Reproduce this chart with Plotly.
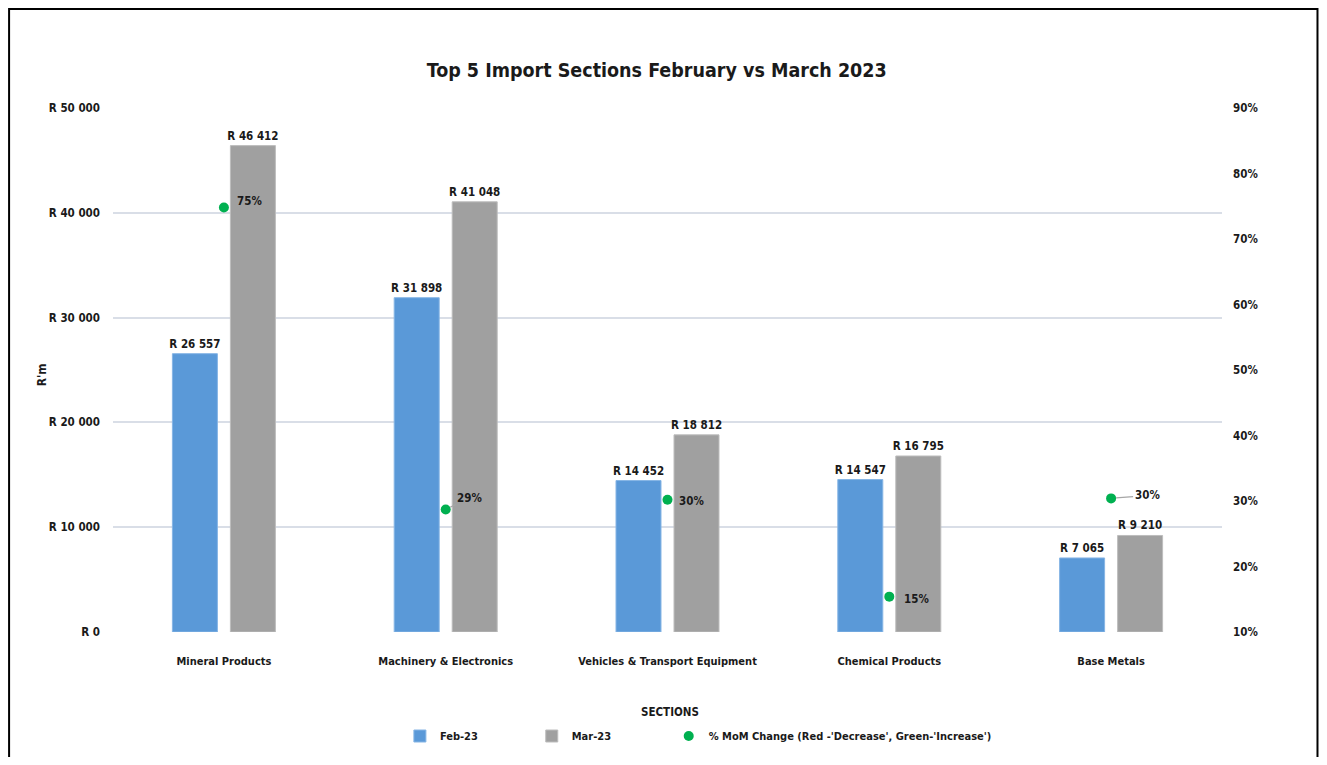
import plotly.graph_objects as go

# ---- data ----
sections = ["Mineral Products", "Machinery & Electronics", "Vehicles & Transport Equipment",
            "Chemical Products", "Base Metals"]
feb_23 = [26557, 31898, 14452, 14547, 7065]
mar_23 = [46412, 41048, 18812, 16795, 9210]
mom_change = [0.748, 0.287, 0.302, 0.154, 0.304]
y_ticks = [0, 10000, 20000, 30000, 40000, 50000]
y2_ticks = [0.1, 0.2, 0.3, 0.4, 0.5, 0.6, 0.7, 0.8, 0.9]

FONT = "DejaVu Sans Condensed, Liberation Sans Narrow, Arial Narrow, sans-serif"
TXT = "#1a1a1a"
BLUE = "#5a99d8"
GRAY = "#a0a0a0"
GREEN = "#00b050"


def f(size):
    return dict(family=FONT, size=size, color=TXT, weight="bold")


fig = go.Figure()
fig.add_trace(go.Bar(
    x=sections, y=feb_23, name="Feb-23", legend="legend",
    marker=dict(color=BLUE, line=dict(color="#86b5e5", width=1)),
    texttemplate="R %{y:,}", textposition="outside", constraintext="none",
    cliponaxis=False, textfont=f(11.5),
))
fig.add_trace(go.Bar(
    x=sections, y=mar_23, name="Mar-23", legend="legend2",
    marker=dict(color=GRAY, line=dict(color="#bdbdbd", width=1)),
    texttemplate="R %{y:,}", textposition="outside", constraintext="none",
    cliponaxis=False, textfont=f(11.5),
))
fig.add_trace(go.Scatter(
    x=sections, y=mom_change, yaxis="y2", mode="markers", legend="legend3",
    name="% MoM Change (Red -'Decrease', Green-'Increase')",
    marker=dict(color=GREEN, size=10, symbol="circle"),
    cliponaxis=False,
))

# percentage labels (offsets in px are styling)
label_style = [
    dict(xshift=26, yshift=7, arrow=False),
    dict(ax=24, ay=-12, arrow=True),
    dict(xshift=24, yshift=-1, arrow=False),
    dict(xshift=27, yshift=-2, arrow=False),
    dict(ax=36, ay=-3, arrow=True),
]
for cat, val, st in zip(sections, mom_change, label_style):
    common = dict(x=cat, y=val, xref="x", yref="y2", text=f"{val:.0%}", font=f(11.5))
    if st["arrow"]:
        fig.add_annotation(**common, showarrow=True, arrowhead=0, arrowwidth=1.2,
                           arrowcolor="#a6a6a6", ax=st["ax"], ay=st["ay"], standoff=5)
    else:
        fig.add_annotation(**common, showarrow=False, xshift=st["xshift"], yshift=st["yshift"])

# axis titles
fig.add_annotation(x=-0.064, y=0.49, xref="paper", yref="paper", xanchor="center",
                   yanchor="middle", text="R'm", textangle=-90, showarrow=False, font=f(12))
fig.add_annotation(x=0.502, y=-0.1527, xref="paper", yref="paper", xanchor="center",
                   yanchor="middle", text="SECTIONS", showarrow=False, font=f(11.5))

# outer frame
fig.add_shape(type="rect", xref="paper", yref="paper", x0=-0.0937, x1=1.0861, y0=-0.3, y1=1.1889,
              line=dict(color="black", width=2), layer="above")

legend_common = dict(orientation="h", y=-0.1985, yanchor="middle", xanchor="left",
                     font=f(11), itemwidth=30, bgcolor="rgba(0,0,0,0)")

fig.update_layout(
    width=1311, height=749,
    margin=dict(l=105, r=96.5, t=100, b=125, autoexpand=False),
    paper_bgcolor="white", plot_bgcolor="white",
    separators=". ",
    barmode="group", bargap=0.477, bargroupgap=0.224,
    title=dict(text="Top 5 Import Sections February vs March 2023", x=0.4903, xref="paper",
               xanchor="center", y=0.917, yref="container", yanchor="middle",
               font=f(19.5)),
    font=dict(family=FONT, size=12, color=TXT),
    xaxis=dict(showgrid=False, showline=False, ticks="", ticklabelstandoff=21,
               tickfont=f(11), automargin=False),
    yaxis=dict(range=[0, 50000], tickmode="array", tickvals=y_ticks,
               ticktext=["R " + f"{v:,}".replace(",", " ") for v in y_ticks],
               showgrid=True, gridcolor="#d9dee7", gridwidth=1.5, zeroline=False,
               showline=False, ticklabelstandoff=12, tickfont=f(11.5), automargin=False),
    yaxis2=dict(range=[0.1, 0.9], tickvals=y2_ticks, tickformat=".0%", overlaying="y",
                side="right", showgrid=False, zeroline=False, showline=False,
                ticklabelstandoff=10, tickfont=f(11.5), automargin=False),
    showlegend=True,
    legend=dict(x=0.2587, **legend_common),
    legend2=dict(x=0.3776, **legend_common),
    legend3=dict(x=0.5011, **legend_common),
)

fig.write_html("out.html")
